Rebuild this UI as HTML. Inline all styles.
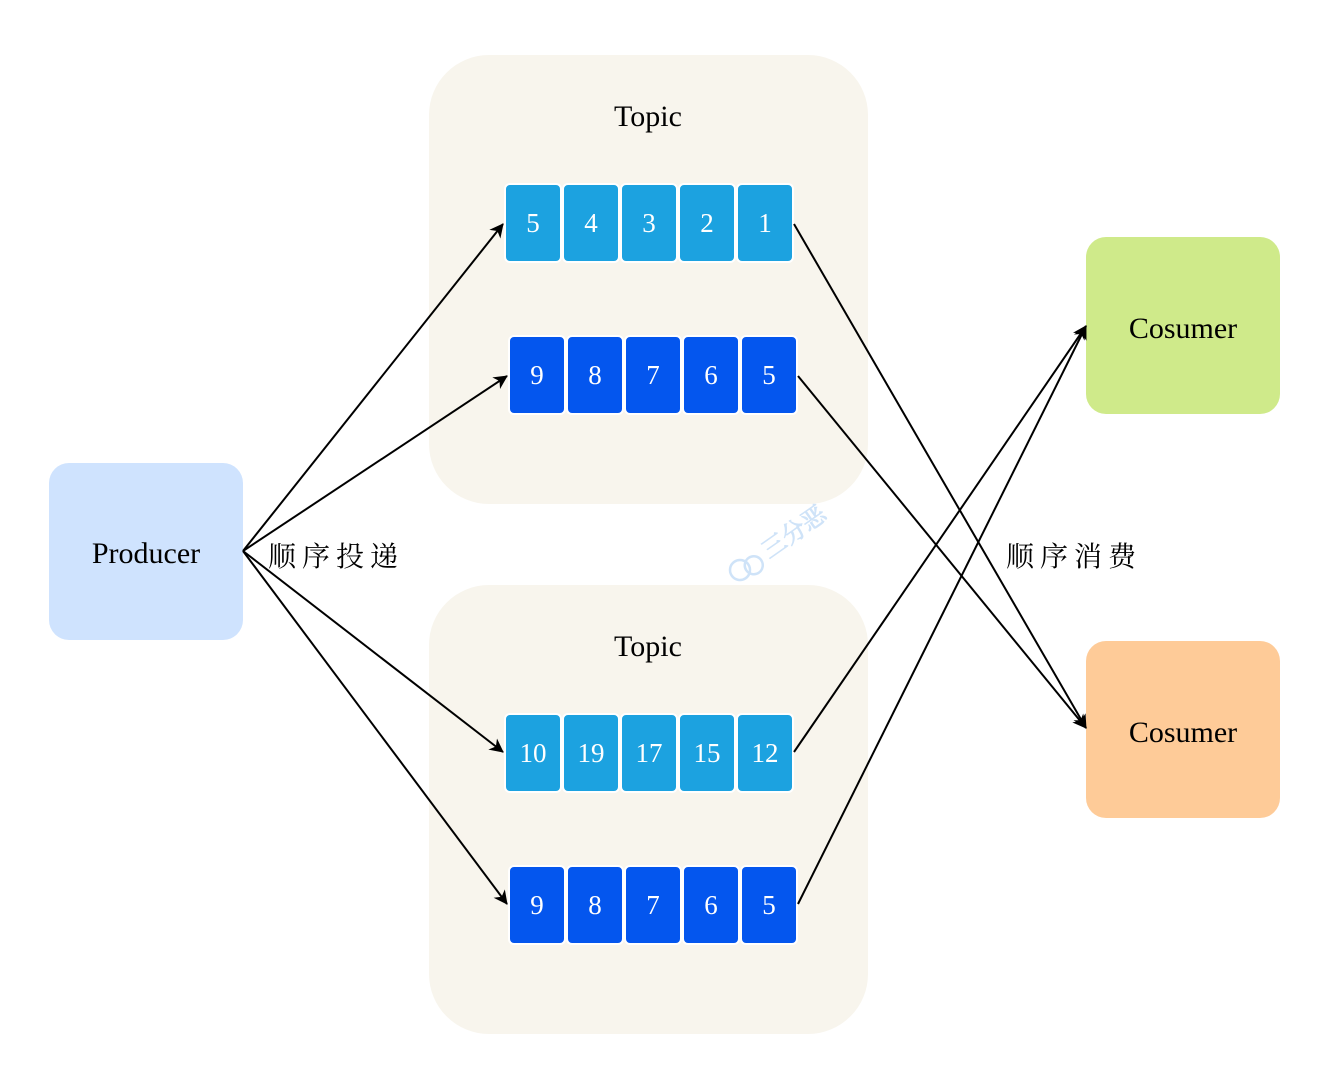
<!DOCTYPE html>
<html><head><meta charset="utf-8"><style>
html,body{margin:0;padding:0;background:#fff;}
svg{display:block;}
text{font-family:"Liberation Serif","Noto Serif CJK SC",serif;}
</style></head><body>
<svg width="1332" height="1068" viewBox="0 0 1332 1068" xmlns="http://www.w3.org/2000/svg">
<defs>
<marker id="a" markerWidth="16" markerHeight="14" refX="13" refY="7" orient="auto" markerUnits="userSpaceOnUse">
<path d="M0,0 L14,7 L0,14 L4,7 Z" fill="#000"/>
</marker>
</defs>
<rect x="429" y="55" width="439" height="449" rx="60" fill="#f8f5ed"/>
<rect x="429" y="585" width="439" height="449" rx="60" fill="#f8f5ed"/>
<text x="648" y="126" font-size="30" text-anchor="middle">Topic</text>
<text x="648" y="656" font-size="30" text-anchor="middle">Topic</text>
<rect x="49" y="463" width="194" height="177" rx="20" fill="#cfe3fe"/>
<text x="146" y="563" font-size="30" text-anchor="middle">Producer</text>
<rect x="1086" y="237" width="194" height="177" rx="20" fill="#cfea8a"/>
<text x="1183" y="338" font-size="30" text-anchor="middle">Cosumer</text>
<rect x="1086" y="641" width="194" height="177" rx="20" fill="#fecb98"/>
<text x="1183" y="742" font-size="30" text-anchor="middle">Cosumer</text>
<g stroke="#fff" stroke-width="2">
<g fill="#1ca2e0">
<rect x="505" y="184" width="56" height="78" rx="5"/><rect x="563" y="184" width="56" height="78" rx="5"/><rect x="621" y="184" width="56" height="78" rx="5"/><rect x="679" y="184" width="56" height="78" rx="5"/><rect x="737" y="184" width="56" height="78" rx="5"/>
<rect x="505" y="714" width="56" height="78" rx="5"/><rect x="563" y="714" width="56" height="78" rx="5"/><rect x="621" y="714" width="56" height="78" rx="5"/><rect x="679" y="714" width="56" height="78" rx="5"/><rect x="737" y="714" width="56" height="78" rx="5"/>
</g>
<g fill="#0456ee">
<rect x="509" y="336" width="56" height="78" rx="5"/><rect x="567" y="336" width="56" height="78" rx="5"/><rect x="625" y="336" width="56" height="78" rx="5"/><rect x="683" y="336" width="56" height="78" rx="5"/><rect x="741" y="336" width="56" height="78" rx="5"/>
<rect x="509" y="866" width="56" height="78" rx="5"/><rect x="567" y="866" width="56" height="78" rx="5"/><rect x="625" y="866" width="56" height="78" rx="5"/><rect x="683" y="866" width="56" height="78" rx="5"/><rect x="741" y="866" width="56" height="78" rx="5"/>
</g>
</g>
<g fill="#fff" font-size="27" text-anchor="middle">
<text x="533" y="232">5</text><text x="591" y="232">4</text><text x="649" y="232">3</text><text x="707" y="232">2</text><text x="765" y="232">1</text>
<text x="537" y="384">9</text><text x="595" y="384">8</text><text x="653" y="384">7</text><text x="711" y="384">6</text><text x="769" y="384">5</text>
<text x="533" y="762">10</text><text x="591" y="762">19</text><text x="649" y="762">17</text><text x="707" y="762">15</text><text x="765" y="762">12</text>
<text x="537" y="914">9</text><text x="595" y="914">8</text><text x="653" y="914">7</text><text x="711" y="914">6</text><text x="769" y="914">5</text>
</g>
<g stroke="#000" stroke-width="2" fill="none" marker-end="url(#a)">
<line x1="243" y1="551" x2="503" y2="224"/>
<line x1="243" y1="551" x2="507" y2="376"/>
<line x1="243" y1="551" x2="503" y2="752"/>
<line x1="243" y1="551" x2="507" y2="904"/>
<line x1="794" y1="224" x2="1086" y2="728"/>
<line x1="798" y1="376" x2="1086" y2="728"/>
<line x1="794" y1="752" x2="1086" y2="326"/>
<line x1="798" y1="904" x2="1086" y2="326"/>
</g>
<text x="268" y="566" font-size="28" letter-spacing="6">顺序投递</text>
<text x="1006" y="566" font-size="28" letter-spacing="6">顺序消费</text>
<g transform="translate(740,570) rotate(-35)" fill="#cfe3f8">
<text x="30" y="8" font-size="24" stroke="#cfe3f8" stroke-width="0.8">三分恶</text>
<circle cx="0" cy="0" r="10" fill="none" stroke="#cfe3f8" stroke-width="2.5"/>
<circle cx="14" cy="4" r="9" fill="none" stroke="#cfe3f8" stroke-width="2.5"/>
</g>
</svg>
</body></html>
